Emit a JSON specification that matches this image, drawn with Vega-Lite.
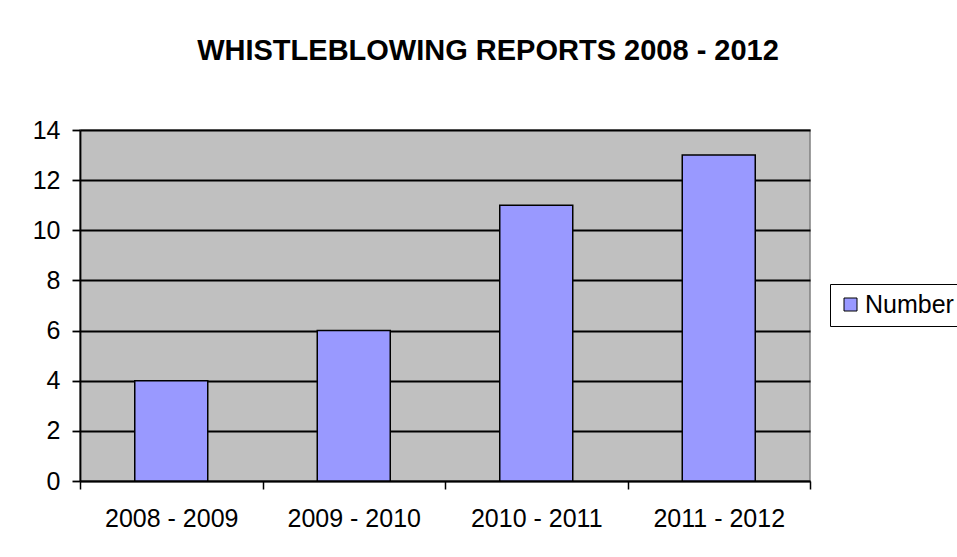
{
  "$schema": "https://vega.github.io/schema/vega-lite/v6.json",
  "autosize": "none",
  "width": 730,
  "height": 351,
  "padding": {"left": 80, "top": 130, "right": 147, "bottom": 76},
  "background": "white",
  "title": {
    "text": "WHISTLEBLOWING REPORTS 2008 - 2012",
    "font": "Liberation Sans",
    "fontSize": 29,
    "fontWeight": "bold",
    "color": "black",
    "anchor": "middle",
    "frame": "group",
    "dx": 43,
    "offset": 52
  },
  "data": {
    "values": [
      {"period": "2008 - 2009", "count": 4},
      {"period": "2009 - 2010", "count": 6},
      {"period": "2010 - 2011", "count": 11},
      {"period": "2011 - 2012", "count": 13}
    ]
  },
  "mark": {"type": "bar", "width": {"band": 0.4}, "stroke": "black", "strokeWidth": 1.5},
  "encoding": {
    "x": {
      "field": "period",
      "type": "nominal",
      "sort": null,
      "scale": {"paddingInner": 0, "paddingOuter": 0},
      "axis": {
        "title": null,
        "labelAngle": 0,
        "tickBand": "extent",
        "domainColor": "black",
        "domainWidth": 1.5,
        "tickColor": "black",
        "tickWidth": 1.5,
        "tickSize": 8,
        "labelFont": "Liberation Sans",
        "labelFontSize": 25,
        "labelColor": "black",
        "labelPadding": 17
      }
    },
    "y": {
      "field": "count",
      "type": "quantitative",
      "scale": {"domain": [0, 14]},
      "axis": {
        "title": null,
        "values": [0, 2, 4, 6, 8, 10, 12, 14],
        "grid": true,
        "gridColor": "black",
        "gridWidth": 1.8,
        "domainColor": "black",
        "domainWidth": 1.8,
        "tickColor": "black",
        "tickWidth": 1.8,
        "tickSize": 8,
        "labelFont": "Liberation Sans",
        "labelFontSize": 25,
        "labelColor": "black",
        "labelPadding": 12
      }
    },
    "color": {
      "datum": "Number",
      "type": "nominal",
      "scale": {"range": ["#9999FF"]},
      "legend": {
        "title": null,
        "orient": "none",
        "legendX": 750,
        "legendY": 154,
        "strokeColor": "black",
        "fillColor": "white",
        "padding": 8,
        "symbolType": "square",
        "symbolSize": 169,
        "symbolStrokeColor": "black",
        "symbolStrokeWidth": 1,
        "labelFont": "Liberation Sans",
        "labelFontSize": 25,
        "labelColor": "black",
        "labelOffset": 2
      }
    }
  },
  "config": {
    "view": {"fill": "#C0C0C0", "stroke": "#808080", "strokeWidth": 1.5}
  }
}
